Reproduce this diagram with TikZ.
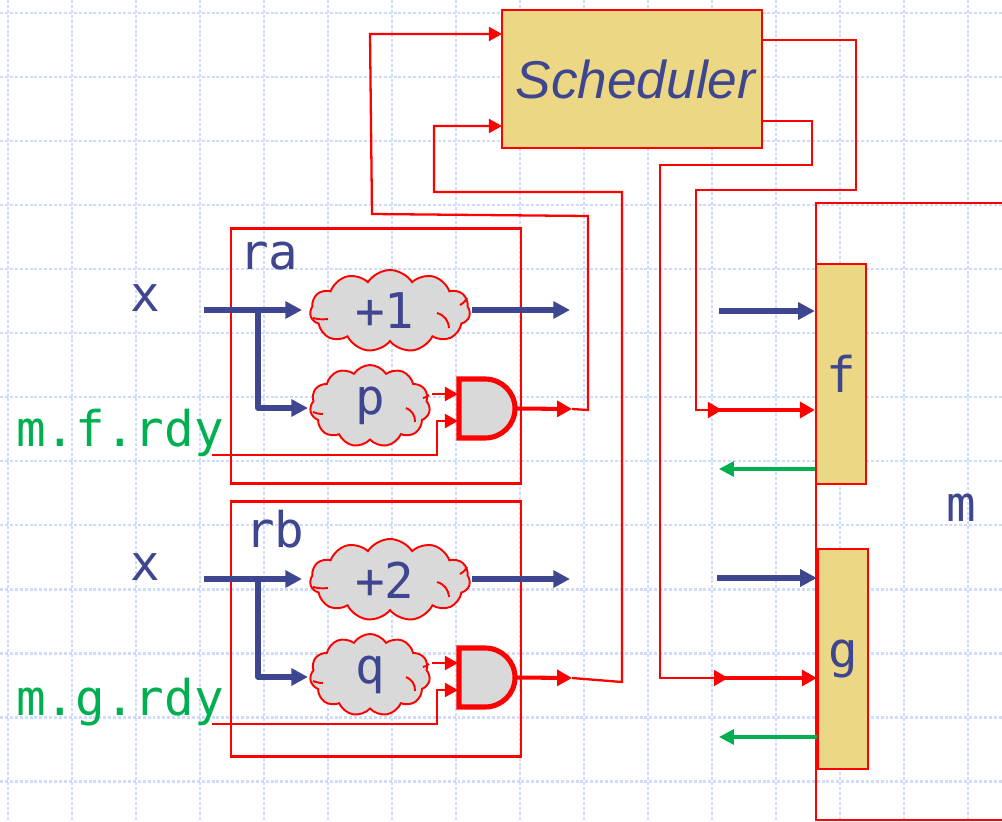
\documentclass[tikz,border=0pt]{standalone}
\usepackage{fontspec}
\setmainfont{Liberation Sans}
\setmonofont{DejaVu Sans Mono}
\usetikzlibrary{arrows.meta,shapes.symbols}
\definecolor{ink}{HTML}{3F4690}
\definecolor{sig}{HTML}{00B050}
\definecolor{gold}{HTML}{EBD784}
\definecolor{mist}{HTML}{D9D9D9}
\definecolor{paper}{HTML}{CFDBFA}
\newcommand{\lowr}[1]{\raisebox{-1.7pt}{#1}}
\begin{document}
\begin{tikzpicture}[x=0.02cm,y=-0.02cm,line cap=butt,every node/.style={font=\fontsize{28}{30}\selectfont\ttfamily,text=ink}]
\tikzset{wire/.style={red,line width=1.3pt},
  wtip/.style={wire,-{Triangle[length=7.5pt,width=8pt]}},
  redbus/.style={red,line width=2.3pt,-{Triangle[length=8.5pt,width=9pt]}},
  bluebus/.style={ink,line width=3.3pt,-{Triangle[length=9.5pt,width=9.5pt]}},
  greenbus/.style={sig,line width=1.9pt,-{Triangle[length=8.5pt,width=8.5pt]}},
  regbox/.style={draw=red,line width=1.3pt,minimum width=5.8cm,minimum height=5.1cm,inner sep=0},
  method/.style={draw=red,line width=1.3pt,fill=gold,minimum width=1cm,minimum height=4.4cm,inner sep=0},
  blob/.style={cloud,draw=red,line width=1.1pt,fill=mist,cloud puffs=11,cloud puff arc=115,inner sep=0,minimum height=1.64cm},
  crease/.style={red,line width=1.1pt}}
\useasboundingbox (0,0) rectangle (1002,822);
\foreach \x in {8,72,...,968} \draw[paper,line width=1.7pt,dash pattern=on 1.7pt off 1.1pt] (\x,0)--(\x,822);
\foreach \y in {13,77,...,781} \draw[paper,line width=1.7pt,dash pattern=on 1.7pt off 1.1pt] (0,\y)--(1002,\y);
\node[draw=red,line width=1.3pt,fill=gold,minimum width=5.2cm,minimum height=2.76cm,inner sep=0,font=\fontsize{30.3}{32}\selectfont\itshape\rmfamily] (sched) at (632,79) {\hspace*{4pt}\raisebox{-2pt}{Scheduler}};
\coordinate (mNW) at (1002,203); \coordinate (mNC) at (816,203); \coordinate (mSC) at (816,820); \coordinate (mSE) at (1002,820);
\draw[wire] (mNW)--(mNC)--(mSC)--(mSE);
\node (mlab) at (961,508) {m};
\foreach \r/\s/\cy/\lx/\ly/\sum/\guard/\meth in {a/0/356/269/256/{+1}/p/f,b/269/360/275/260/{+2}/q/g}{
  \begin{scope}[shift={(0,\s)}]
  \node[regbox] (reg\r) at (376,\cy) {};
  \node (lab\r) at (\lx,\ly) {r\r};
  \node (x\r) at (145,298) {x};
  \node[blob,aspect=2.2,minimum width=3.2cm] (sum\r) at (390,311) {\lowr{\sum}\hspace*{6pt}};
  \node[blob,aspect=1.5,minimum width=2.4cm] (guard\r) at (370,406) {\lowr{\guard}};
  \draw[crease] (313,318) to[bend right=10] (328,319);
  \draw[crease] (437,313) to[bend left=35] (449,328);
  \draw[crease] (460,305) to[bend right=15] (467,298);
  \draw[crease] (313,412) to[bend right=10] (323,414);
  \draw[crease] (406,408) to[bend left=35] (415,422);
  \draw[crease] (423,398) to[bend right=15] (429,395);
  \coordinate (gtl\r) at (459,379); \coordinate (gbl\r) at (459,438);
  \coordinate (gi1\r) at (458,394); \coordinate (gi2\r) at (458,421); \coordinate (gout\r) at (517,408.5);
  \draw[red,line width=2.9pt,fill=mist,line join=miter] (gtl\r)--(485,379) arc[start angle=-90,end angle=90,x radius=30,y radius=29.5]--(gbl\r)--cycle;
  \node[text=sig] (rdy\r) at (120,433) {m.\meth.rdy};
  \coordinate (in\r) at (204,310); \coordinate (fork\r) at (258,310); \coordinate (bend\r) at (258,408);
  \coordinate (hop\r) at (437,455); \coordinate (rdyend\r) at (212,455); \coordinate (sumout\r) at (570,310);
  \coordinate (en\r) at (572,409); \coordinate (sumgo\r) at (472,310); \coordinate (guardgo\r) at (432,394);
  \draw[bluebus] (in\r)--(302,310);
  \draw[bluebus,line join=round] (fork\r)--(bend\r)--(308,408);
  \draw[bluebus] (sumgo\r)--(sumout\r);
  \draw[wtip] (guardgo\r)--(gi1\r);
  \draw[wtip] (rdyend\r)--(hop\r)--(hop\r|-gi2\r)--(gi2\r);
  \draw[redbus] (gout\r)--(en\r);
  \end{scope}}
\node[method] (f) at (841,374) {\raisebox{-2pt}{f}};
\node[method] (g) at (843,659) {\raisebox{-2pt}{g}};
\coordinate (schA) at (762,40); \coordinate (schB) at (762,121);
\coordinate (reqa) at (502,34); \coordinate (reqb) at (502,126);
\coordinate (fgo) at (722,410); \coordinate (ggo) at (728,678);
\draw[redbus] (fgo)++(-5,0)--(f.west|-fgo);
\draw[redbus] (ggo)++(-5,0)--(g.west|-ggo);
\draw[wire,-{Triangle[length=8pt,width=9pt]}] (schA)--(856,40)--(856,190)--(696,190)--(696,410)--(fgo);
\draw[wire,-{Triangle[length=8pt,width=9pt]}] (schB)--(812,121)--(812,165)--(660,165)--(660,678)--(ggo);
\draw[wtip] (ena)--(588,410)--(588,216)--(372,214)--(370,34)--(reqa);
\draw[wtip] (enb)--(622,682)--(622,192)--(434,192)--(434,126)--(reqb);
\draw[bluebus] (719,311)--(f.west|-0,311);
\draw[bluebus] (717,578)--(g.west|-0,578);
\draw[greenbus] (f.west|-0,469)--(719,469);
\draw[greenbus] (g.west|-0,737)--(719,737);
\end{tikzpicture}
\end{document}
